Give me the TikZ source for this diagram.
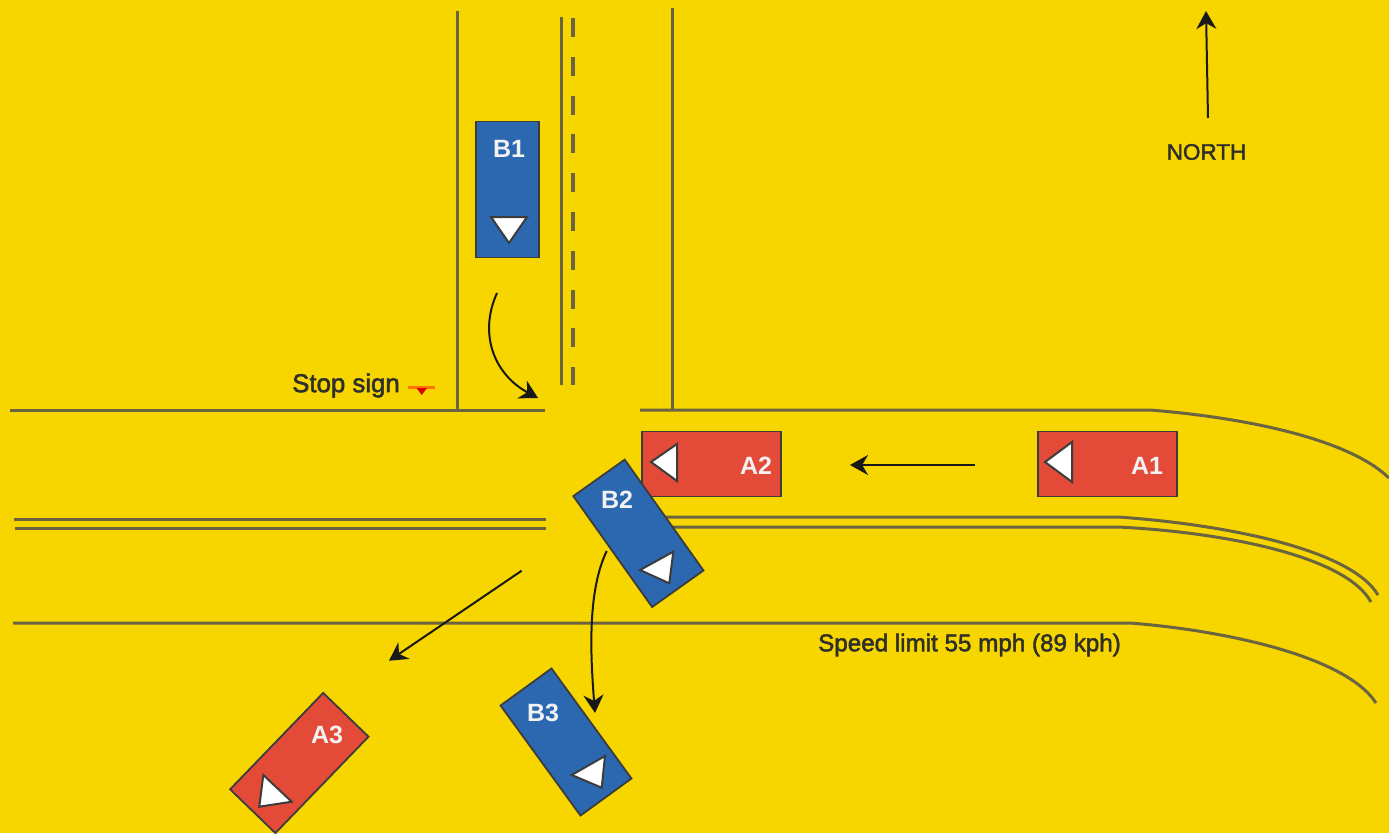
\documentclass[tikz,border=0pt]{standalone}
\usepackage{fontspec}
\setmainfont{Liberation Sans}
\newfontfamily\heavyf[FakeBold=2]{Liberation Sans}
\usetikzlibrary{arrows.meta}
\definecolor{bgy}{HTML}{F7D600}
\definecolor{carred}{HTML}{E34B38}
\definecolor{carblue}{HTML}{2B68B0}
\definecolor{roadc}{HTML}{6A6540}
\definecolor{edgec}{HTML}{3C3C3C}
\definecolor{txt}{HTML}{2E2E2A}
\tikzset{
  road/.style={draw=roadc,line width=3pt},
  move/.style={draw=black!90,line width=2pt,-{Stealth[length=18pt,width=20pt]}},
  car/.style={draw=edgec,line width=1.8pt,minimum width=#1,inner sep=0pt},
  redcar/.style={car=139pt,fill=carred,minimum height=65pt},
  bluecar/.style={car=136pt,fill=carblue,minimum height=63pt},
  dirmark/.style={draw=edgec,fill=white,line width=2pt,line join=miter},
  carlabel/.style={text=white!95!black,font=\bfseries\fontsize{25}{25}\selectfont,inner sep=0pt},
  note/.style={text=txt,font=\heavyf\fontsize{22.5}{25}\selectfont,inner sep=0pt},
  notewide/.style={note,font=\heavyf\fontsize{24.2}{25}\selectfont},
  notestop/.style={note,font=\heavyf\fontsize{25.8}{26}\selectfont}
}
\begin{document}
\begin{tikzpicture}[x=1pt,y=-1pt]
\fill[bgy] (0,0) rectangle (1389,833);
\useasboundingbox (0,0) rectangle (1389,833);
% north-south road
\draw[road] (457,11) -- (457,410);
\draw[road] (672,8) -- (672,410);
\draw[road] (561,17) -- (561,385);
\draw[road,line width=3.6pt,dash pattern=on 19pt off 19.8pt] (573,18) -- (573,385);
% east-west road
\draw[road] (10,410) -- (545,410);
\draw[road] (640,410) -- (1150,410) .. controls (1250,418) and (1350,440) .. (1389,478);
\draw[road] (14,519) -- (546,519);
\draw[road] (15,528) -- (546,528);
\draw[road] (660,517) -- (1118,517) .. controls (1220,524) and (1350,548) .. (1378,595);
\draw[road] (660,527) -- (1118,527) .. controls (1220,532) and (1345,555) .. (1371,602);
\draw[road] (13,623) -- (1130,623) .. controls (1220,630) and (1345,655) .. (1376,703);
% stop sign
\draw[orange!90!red,line width=2.6pt] (408,387.5) -- (435,387.5);
\fill[red!85!black] (416.5,388) -- (427,388) -- (421.7,395) -- cycle;
% cars
\node[redcar] (A2) at (711.5,464) {};
\node[redcar] (A1) at (1107.5,464) {};
\node[bluecar,rotate=90] (B1) at (507.5,189.5) {};
\draw[dirmark] (651,462) -- (677,444) -- (677,481) -- cycle;
\node[bluecar,rotate=-54.6] (B2) at (638.4,533.3) {};
\node[bluecar,rotate=-54] (B3) at (566,742) {};
\node[redcar,rotate=46,minimum width=134pt,minimum height=63pt] (A3) at (299.3,763) {};
% direction marks
\draw[dirmark] (491,217) -- (527,217) -- (509,243) -- cycle;
\draw[dirmark] (1045,462) -- (1072,442) -- (1072,482) -- cycle;
\draw[dirmark] (640,570) -- (673.3,551.7) -- (669.3,583.3) -- cycle;
\draw[dirmark] (571.7,775) -- (605,756) -- (601.7,787.7) -- cycle;
\draw[dirmark] (263.3,775) -- (291.7,801.7) -- (259.3,806.7) -- cycle;
% car labels
\node[carlabel] (lB1) at (509,149) {B1};
\node[carlabel] (lA2) at (756,466) {A2};
\node[carlabel] (lA1) at (1147,466) {A1};
\node[carlabel] (lB2) at (617,500) {B2};
\node[carlabel] (lB3) at (543,713) {B3};
\node[carlabel] (lA3) at (327,735) {A3};
% notes
\node[note] (north) at (1206.5,152) {NORTH};
\node[notestop] (stop) at (346,385.5) {Stop sign};
\node[notewide] (limit) at (969.5,645) {Speed limit 55 mph (89 kph)};
% movement arrows
\coordinate (n0) at (1208,118);
\coordinate (n1) at (1206,11);
\draw[move] (n0) -- (n1);
\coordinate (a0) at (975,465);
\coordinate (a1) at (850,465);
\draw[move] (a0) -- (a1);
\coordinate (a2) at (521.7,570.7);
\coordinate (a3) at (389,660.7);
\draw[move] (a2) -- (a3);
\coordinate (b0) at (497,293);
\coordinate (b1) at (538,398);
\draw[move] (b0) .. controls (478,335) and (495,375) .. (b1);
\coordinate (b2) at (606.7,551);
\coordinate (b3) at (595,713);
\draw[move] (b2) .. controls (588,590) and (590,650) .. (b3);
\end{tikzpicture}
\end{document}
